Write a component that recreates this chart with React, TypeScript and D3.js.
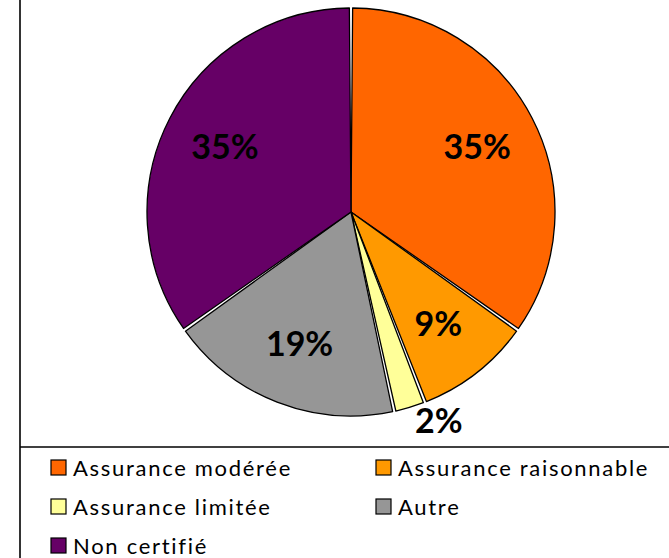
import React from "react";
import * as d3 from "d3";

const categories = ["Assurance modérée", "Assurance raisonnable", "Assurance limitée", "Autre", "Non certifié"];
const values = [34.8, 9.3, 2.5, 18.6, 34.8];
const valueLabels = ["35%", "9%", "2%", "19%", "35%"];
const colors = ["#FF6600", "#FF9900", "#FFFF99", "#969696", "#660066"];
const outsideLabel = [false, false, true, false, false];

const W = 669;
const H = 558;

export default function App() {
  const cx = 351;
  const cy = 212;
  const r = 204;
  const pie = d3.pie<number>().sort(null).value((d) => d)(values);
  const arc = d3.arc<d3.PieArcDatum<number>>().innerRadius(0).outerRadius(r).padAngle(0.016);
  const labelArc = d3.arc<d3.PieArcDatum<number>>().innerRadius(142).outerRadius(142);

  const legendX = [51, 376];
  const legendY = [460, 499, 538];

  return (
    <svg width={W} height={H} style={{ position: "absolute", left: 0, top: 0, background: "#fff" }}>
      <line x1={20} y1={0} x2={20} y2={H} stroke="#000" strokeWidth={1.6} />
      <line x1={20} y1={447} x2={W} y2={447} stroke="#000" strokeWidth={1.6} />
      <g transform={`translate(${cx},${cy})`}>
        {pie.map((p, i) => (
          <path key={i} d={arc(p) || ""} fill={colors[i]} stroke="#000" strokeWidth={1.3} strokeLinejoin="round" />
        ))}
        {pie.map((p, i) => {
          const mid = (p.startAngle + p.endAngle) / 2;
          if (outsideLabel[i]) {
            const ox = Math.sin(mid) * (r + 4);
            const oy = -Math.cos(mid) * (r + 4);
            return (
              <text key={i} x={ox + 4} y={oy + 22} textAnchor="start"
                fontFamily="Lato, 'Open Sans', sans-serif" fontWeight="bold" fontSize={34} fill="#000">
                {valueLabels[i]}
              </text>
            );
          }
          const [lx, ly] = labelArc.centroid(p);
          return (
            <text key={i} x={lx} y={ly + 12} textAnchor="middle"
              fontFamily="Lato, 'Open Sans', sans-serif" fontWeight="bold" fontSize={34} fill="#000">
              {valueLabels[i]}
            </text>
          );
        })}
      </g>
      {categories.map((c, i) => {
        const x = legendX[i % 2];
        const y = legendY[Math.floor(i / 2)];
        return (
          <g key={c}>
            <rect x={x} y={y} width={15} height={15} fill={colors[i]} stroke="#000" strokeWidth={1.2} />
            <text x={x + 22} y={y + 16} fontFamily="Lato, 'Open Sans', sans-serif" fontSize={22} letterSpacing={1.7} fill="#000">
              {c}
            </text>
          </g>
        );
      })}
    </svg>
  );
}
